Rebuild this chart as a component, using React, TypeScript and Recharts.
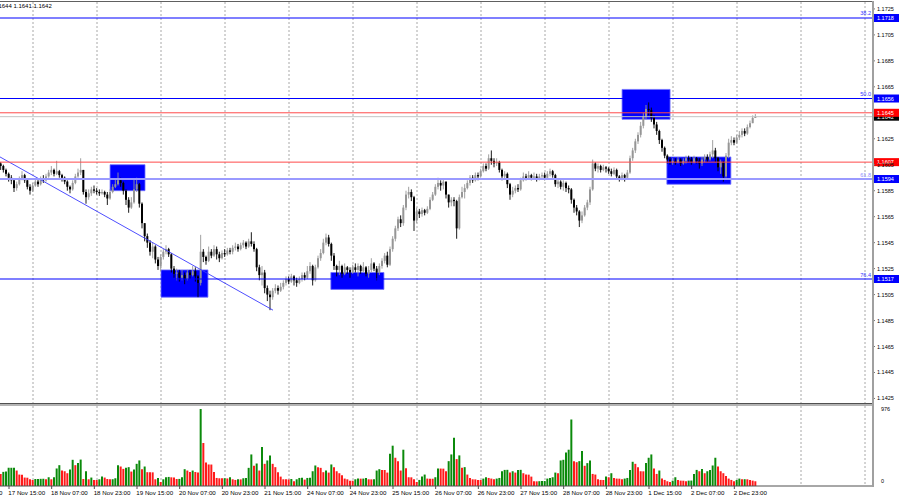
import {
  Bar,
  CartesianGrid,
  Cell,
  ComposedChart,
  ReferenceArea,
  ReferenceLine,
  XAxis,
  YAxis,
} from 'recharts';

const FONT = '"Liberation Sans", Arial, sans-serif';

// H1 bars, bar 0 = 17 Nov 15:00; the first visible candle is bar -3
const firstBar = -3;
const firstOpen = 106;

// prices in pips above 1.1500
const closes = [
  104, 101, 98, 95, 93, 87, 90, 94, 97, 93,
  88, 85, 89, 92, 90, 94, 93, 96, 99, 101,
  98, 100, 97, 95, 92, 88, 86, 91, 96, 99,
  101, 84, 80, 83, 86, 85, 84, 83, 84, 82,
  79, 84, 88, 90, 93, 91, 85, 78, 72, 76,
  86, 90, 75, 60, 50, 45, 38, 42, 32, 27,
  34, 38, 40, 36, 25, 21, 22, 18, 20, 17,
  22, 20, 23, 19, 14, 38, 34, 31, 38, 35,
  40, 36, 33, 37, 36, 39, 38, 41, 42, 40,
  43, 45, 42, 46, 44, 40, 26, 20, 22, 10,
  5, 3, 8, 10, 8, 11, 14, 17, 15, 19,
  16, 14, 17, 20, 18, 23, 27, 16, 26, 33,
  37, 45, 49, 44, 35, 27, 24, 27, 21, 26,
  24, 22, 26, 24, 27, 23, 26, 21, 24, 29,
  25, 22, 27, 31, 35, 28, 40, 48, 56, 63,
  60, 72, 82, 84, 80, 62, 69, 67, 70, 68,
  71, 78, 82, 88, 91, 89, 92, 82, 76, 78,
  77, 56, 80, 84, 87, 91, 95, 93, 97, 96,
  100, 104, 102, 110, 108, 106, 107, 101, 96, 98,
  90, 82, 85, 87, 86, 93, 96, 95, 97, 95,
  96, 94, 96, 97, 95, 98, 100, 97, 90, 92,
  88, 91, 87, 86, 78, 72, 69, 62, 66, 72,
  76, 86, 106, 102, 104, 101, 103, 102, 100, 98,
  101, 96, 94, 97, 95, 99, 110, 116, 123, 128,
  135, 142, 148, 147, 141, 136, 131, 124, 118, 112,
  109, 107, 108, 107, 109, 106, 108, 110, 109, 107,
  110, 108, 106, 109, 111, 109, 113, 116, 110, 103,
  107, 96, 112, 122, 124, 122, 126, 128, 131, 129,
  134, 137, 141, 142,
];

const highs = [
  107, 105, 102, 99, 97, 94, 92, 96, 100, 98,
  94, 90, 91, 94, 94, 96, 97, 98, 101, 104,
  102, 108, 101, 98, 96, 93, 89, 93, 98, 102,
  110, 100, 86, 86, 88, 89, 87, 86, 86, 85,
  84, 86, 90, 94, 99, 95, 92, 86, 80, 80,
  94, 95, 91, 76, 60, 52, 47, 45, 43, 34,
  36, 40, 43, 41, 37, 27, 25, 24, 24, 22,
  24, 24, 27, 26, 20, 51, 40, 35, 42, 40,
  43, 42, 38, 39, 40, 41, 41, 43, 45, 44,
  45, 47, 46, 48, 53, 46, 41, 28, 27, 24,
  12, 8, 10, 13, 12, 14, 16, 19, 19, 21,
  20, 18, 19, 22, 22, 27, 30, 28, 28, 35,
  40, 48, 52, 51, 45, 37, 28, 31, 28, 29,
  27, 26, 28, 29, 29, 28, 30, 27, 27, 33,
  30, 27, 29, 33, 37, 38, 42, 50, 58, 65,
  66, 74, 85, 88, 86, 81, 72, 71, 72, 71,
  73, 80, 84, 90, 95, 93, 94, 92, 82, 80,
  80, 78, 82, 88, 90, 93, 97, 97, 99, 99,
  102, 106, 106, 113, 116, 110, 110, 108, 102, 100,
  99, 91, 88, 89, 90, 95, 99, 98, 100, 98,
  99, 98, 98, 99, 99, 100, 102, 101, 98, 94,
  93, 93, 92, 89, 87, 79, 74, 70, 69, 74,
  78, 88, 109, 107, 106, 105, 105, 104, 103, 102,
  103, 102, 97, 99, 98, 101, 112, 118, 125, 130,
  138, 145, 151, 153, 149, 143, 138, 132, 125, 119,
  113, 111, 110, 110, 111, 110, 110, 112, 112, 111,
  112, 111, 110, 111, 113, 113, 115, 124, 118, 111,
  109, 108, 114, 125, 127, 126, 128, 131, 133, 133,
  136, 139, 143, 144,
];

const lows = [
  101, 99, 96, 92, 90, 84, 85, 89, 93, 91,
  86, 82, 84, 88, 88, 89, 91, 92, 95, 97,
  96, 97, 95, 92, 90, 85, 83, 85, 90, 95,
  97, 82, 75, 78, 81, 83, 82, 81, 82, 80,
  74, 78, 83, 87, 89, 88, 82, 74, 68, 71,
  75, 84, 72, 56, 46, 41, 35, 33, 29, 24,
  23, 32, 36, 34, 22, 18, 16, 15, 16, 13,
  16, 17, 19, 15, 3, 12, 30, 28, 30, 33,
  34, 32, 30, 32, 34, 35, 36, 36, 39, 38,
  39, 41, 40, 41, 42, 38, 23, 16, 12, 6,
  0, -7, 1, 6, 5, 7, 9, 12, 13, 14,
  12, 11, 13, 15, 16, 17, 21, 12, 15, 25,
  31, 36, 43, 42, 31, 24, 19, 20, 18, 20,
  21, 18, 21, 22, 19, 21, 22, 19, 18, 22,
  23, 16, 20, 25, 29, 26, 27, 38, 46, 54,
  57, 58, 70, 79, 77, 54, 60, 64, 65, 66,
  67, 70, 77, 81, 86, 85, 86, 79, 72, 73,
  73, 48, 55, 79, 79, 86, 89, 91, 92, 93,
  95, 99, 100, 101, 105, 103, 104, 99, 93, 94,
  87, 78, 80, 83, 84, 85, 92, 93, 94, 93,
  94, 92, 93, 94, 93, 94, 96, 95, 88, 87,
  86, 85, 84, 83, 75, 68, 66, 57, 60, 65,
  70, 74, 85, 100, 99, 99, 100, 99, 98, 96,
  97, 94, 92, 93, 92, 94, 98, 108, 114, 121,
  126, 133, 140, 143, 138, 133, 128, 121, 115, 110,
  106, 105, 105, 105, 106, 104, 105, 106, 107, 105,
  106, 106, 102, 104, 107, 107, 108, 110, 107, 100,
  98, 92, 95, 110, 120, 120, 121, 124, 126, 127,
  128, 133, 137, 141,
];

// tick volume
const volumes = [
  153, 179, 183, 230, 231, 232, 196, 145, 143, 107,
  105, 85, 77, 89, 90, 91, 92, 85, 111, 85,
  111, 222, 264, 196, 187, 162, 209, 332, 264, 290,
  335, 89, 187, 85, 107, 77, 76, 85, 119, 107,
  89, 85, 86, 98, 264, 247, 217, 230, 239, 183,
  209, 281, 324, 213, 247, 175, 174, 173, 85, 102,
  51, 85, 111, 115, 110, 109, 89, 90, 111, 213,
  196, 179, 196, 178, 170, 976, 545, 298, 273, 272,
  179, 102, 98, 97, 99, 96, 111, 85, 77, 85,
  84, 98, 102, 230, 400, 256, 285, 196, 494, 281,
  324, 388, 281, 239, 175, 119, 85, 84, 83, 89,
  60, 85, 102, 103, 81, 102, 104, 187, 260, 239,
  230, 175, 196, 170, 273, 239, 187, 162, 136, 94,
  85, 68, 67, 85, 94, 93, 94, 102, 85, 84,
  86, 196, 213, 204, 203, 170, 409, 511, 358, 315,
  196, 460, 226, 111, 110, 85, 51, 77, 119, 145,
  94, 93, 92, 111, 222, 221, 220, 187, 315, 400,
  613, 341, 388, 230, 239, 145, 102, 85, 84, 77,
  76, 94, 111, 102, 94, 85, 94, 102, 187, 204,
  205, 170, 187, 170, 204, 205, 162, 145, 144, 119,
  60, 59, 61, 62, 63, 94, 102, 111, 170, 162,
  324, 332, 426, 460, 843, 315, 302, 315, 443, 256,
  290, 324, 153, 145, 85, 77, 76, 119, 111, 162,
  102, 94, 93, 85, 94, 102, 204, 307, 281, 239,
  187, 186, 290, 358, 400, 222, 153, 196, 94, 77,
  60, 51, 68, 111, 77, 68, 67, 60, 68, 69,
  153, 204, 187, 217, 162, 187, 204, 260, 358, 247,
  187, 162, 128, 94, 77, 60, 77, 94, 85, 86,
  85, 77, 68, 60,
];

// 1.1645 sits under the red tag, so it is left out of the scale labels
const priceTicks = [
  1.1425, 1.1445, 1.1465, 1.1485, 1.1505, 1.1525, 1.1545, 1.1565,
  1.1585, 1.1605, 1.1625, 1.1665, 1.1685, 1.1705, 1.1725,
];
const timeTicks = [-16, 0, 16, 32, 48, 64, 80, 96, 112, 128, 144, 160, 176, 192, 208, 224, 240, 256, 272];
const timeLabels = [
  '16 Nov 23:00', '17 Nov 15:00', '18 Nov 07:00', '18 Nov 23:00', '19 Nov 15:00',
  '20 Nov 07:00', '20 Nov 23:00', '21 Nov 15:00', '24 Nov 07:00', '24 Nov 23:00',
  '25 Nov 15:00', '26 Nov 07:00', '26 Nov 23:00', '27 Nov 15:00', '28 Nov 07:00',
  '28 Nov 23:00', '1 Dec 15:00', '2 Dec 07:00', '2 Dec 23:00',
];
// bar index of each midnight (day separators)
const midnights = [9, 33, 57, 81, 105, 129, 153, 177, 201, 225, 249, 273, 297, 321];

const fiboPrices = [1.1718, 1.1656, 1.1594, 1.1517];
const fiboNames = ['38.2', '50.0', '61.8', '76.4'];
const redPrices = [1.1645, 1.1607];
const bidPrice = 1.1642;
const headerValues = ['1.1644', '1.1641', '1.1642'];

// blue zones: bar range and price range
const zoneFrom = [37.9, 57, 120.7, 229.9, 246.7];
const zoneTo = [51, 74.6, 140.6, 247.9, 270.7];
const zoneTop = [1.1605, 1.1524, 1.1522, 1.1663, 1.1611];
const zoneBottom = [1.1585, 1.1503, 1.1509, 1.164, 1.159];

const trendFrom = { bar: -3.375, price: 1.1611 };
const trendTo = { bar: 99, price: 1.1493 };

const volTicks = [0, 976];

const X_MIN = -3.375;
const X_MAX = 324;
const PRICE_MIN = 1.142151;
const PRICE_MAX = 1.173032;
const VOL_MAX = 1014;

const BULL = '#969696';
const BEAR = '#000000';
const GREEN = '#0b8a0b';
const RED = '#ff1a1a';

const toPrice = (pips: number) => 1.15 + pips / 10000;

const rows = closes.map((c, k) => {
  const o = k === 0 ? firstOpen : closes[k - 1];
  const high = toPrice(Math.max(highs[k], o, c));
  const low = toPrice(Math.min(lows[k], o, c));
  return {
    i: firstBar + k,
    open: toPrice(o),
    close: toPrice(c),
    high,
    low,
    hl: [low, high],
    vol: volumes[k],
    volUp: k > 0 && volumes[k] > volumes[k - 1],
  };
});

function gridX(args: any) {
  const scale = args?.xAxis?.scale;
  if (typeof scale === 'function') return midnights.map((i) => scale(i));
  const off = args?.offset ?? { left: 0, width: 873 };
  return midnights.map((i) => off.left + ((i - X_MIN) / (X_MAX - X_MIN)) * off.width);
}

function Candle(props: any) {
  const { x, y, width, height, payload } = props;
  if (!payload || x == null || y == null) return null;
  const top0 = Math.min(y, y + height);
  const h = Math.abs(height);
  const { open, close, high, low } = payload;
  const k = high > low ? h / (high - low) : 0;
  const yAt = (p: number) => top0 + (high - p) * k;
  const up = close > open;
  const color = up ? BULL : BEAR;
  const cx = x + width / 2;
  const top = yAt(Math.max(open, close));
  const bottom = yAt(Math.min(open, close));
  return (
    <g>
      <line x1={cx} x2={cx} y1={top0} y2={top0 + h} stroke={color} strokeWidth={0.9} />
      <rect x={x} y={top} width={width} height={Math.max(bottom - top, 0.8)} fill={color} />
    </g>
  );
}

function PriceTick(props: any) {
  const { x, y, payload } = props;
  return (
    <text x={x} y={y} dy={2} fontSize={5.5} fontFamily={FONT} fill="#000">
      {Number(payload.value).toFixed(4)}
    </text>
  );
}

function TimeTick(props: any) {
  const { x, y, payload } = props;
  const idx = timeTicks.indexOf(payload.value);
  return (
    <text x={x - 0.7} y={y} dy={4.3} fontSize={6.2} fontFamily={FONT} fill="#000">
      {timeLabels[idx]}
    </text>
  );
}

function VolTick(props: any) {
  const { x, y, payload } = props;
  return (
    <text x={x} y={y} dy={payload.value === 0 ? -3 : 2} fontSize={5.5} fontFamily={FONT} fill="#000">
      {payload.value}
    </text>
  );
}

function LevelTag(props: any) {
  const { viewBox, price, bg, fibo, fiboColor } = props;
  if (!viewBox) return null;
  const right = viewBox.x + viewBox.width;
  const y = viewBox.y;
  return (
    <g>
      {fibo ? (
        <text x={right - 2} y={y - 2.5} textAnchor="end" fontSize={5.5} fontFamily={FONT} fill={fiboColor}>
          {fibo}
        </text>
      ) : null}
      <rect x={right + 1} y={y - 4} width={25} height={8} fill={bg} />
      <text x={right + 4} y={y + 2} fontSize={5.5} fontFamily={FONT} fill="#ffffff">
        {price.toFixed(4)}
      </text>
    </g>
  );
}

export default function App() {
  return (
    <div
      style={{
        position: 'absolute',
        left: 0,
        top: 0,
        width: 900,
        height: 500,
        overflow: 'hidden',
        background: '#ffffff',
        fontFamily: FONT,
      }}
    >
      <div style={{ position: 'absolute', left: 0, top: 0 }}>
        <ComposedChart width={900} height={404} data={rows} margin={{ top: 2, right: 0, bottom: 1, left: 0 }}>
          <CartesianGrid horizontal={false} verticalCoordinatesGenerator={gridX} stroke="#a8a8a8" strokeDasharray="2 2" />
          <XAxis dataKey="i" type="number" domain={[X_MIN, X_MAX]} allowDataOverflow hide />
          <YAxis
            orientation="right"
            width={27}
            type="number"
            domain={[PRICE_MIN, PRICE_MAX]}
            allowDataOverflow
            ticks={priceTicks}
            interval={0}
            axisLine={false}
            tickLine={{ stroke: '#777777' }}
            tickSize={2}
            tick={<PriceTick />}
          />
          {zoneFrom.map((x1, k) => (
            <ReferenceArea
              key={`zone-${k}`}
              x1={x1}
              x2={zoneTo[k]}
              y1={zoneBottom[k]}
              y2={zoneTop[k]}
              fill="#0000ff"
              fillOpacity={1}
              stroke="#7070ff"
              strokeWidth={0.8}
              ifOverflow="visible"
            />
          ))}
          <Bar dataKey="hl" barSize={2} isAnimationActive={false} shape={(p: any) => <Candle {...p} />} />
          <ReferenceLine
            segment={[
              { x: trendFrom.bar, y: trendFrom.price },
              { x: trendTo.bar, y: trendTo.price },
            ]}
            stroke="#3a3aff"
            strokeWidth={0.9}
            ifOverflow="visible"
          />
          <ReferenceLine
            y={bidPrice}
            stroke="#c4c4c4"
            strokeWidth={1}
            label={<LevelTag price={bidPrice} bg="#000000" />}
          />
          {redPrices.map((p) => (
            <ReferenceLine
              key={`red-${p}`}
              y={p}
              stroke="#ff4a4a"
              strokeWidth={1}
              label={<LevelTag price={p} bg="#ff0000" />}
            />
          ))}
          {fiboPrices.map((p, k) => (
            <ReferenceLine
              key={`fibo-${p}`}
              y={p}
              stroke={k === 2 ? '#9a9aff' : '#0000ff'}
              strokeWidth={k === 2 ? 1.8 : 1.2}
              label={
                <LevelTag
                  price={p}
                  bg="#0000ff"
                  fibo={fiboNames[k]}
                  fiboColor={k === 2 ? '#8c8cff' : '#3535ff'}
                />
              }
            />
          ))}
        </ComposedChart>
      </div>

      <div style={{ position: 'absolute', left: 0, top: 404 }}>
        <ComposedChart width={900} height={96} data={rows} margin={{ top: 2, right: 0, bottom: 0, left: 0 }}>
          <CartesianGrid horizontal={false} verticalCoordinatesGenerator={gridX} stroke="#a8a8a8" strokeDasharray="2 2" />
          <XAxis
            dataKey="i"
            type="number"
            domain={[X_MIN, X_MAX]}
            allowDataOverflow
            ticks={timeTicks}
            interval={0}
            height={14}
            tickSize={3}
            axisLine={{ stroke: '#505050' }}
            tickLine={{ stroke: '#505050' }}
            tick={<TimeTick />}
          />
          <YAxis
            orientation="right"
            width={27}
            type="number"
            domain={[0, VOL_MAX]}
            allowDataOverflow
            ticks={volTicks}
            interval={0}
            axisLine={false}
            tickLine={false}
            tick={<VolTick />}
          />
          <Bar dataKey="vol" barSize={2} isAnimationActive={false}>
            {rows.map((r) => (
              <Cell key={`v-${r.i}`} fill={r.volUp ? GREEN : RED} />
            ))}
          </Bar>
        </ComposedChart>
      </div>

      {/* frame */}
      <div style={{ position: 'absolute', left: 0, top: 1, width: 873, height: 1, background: '#606060' }} />
      <div style={{ position: 'absolute', left: 0, top: 403, width: 873, height: 1, background: '#505050' }} />
      <div style={{ position: 'absolute', left: 0, top: 404, width: 873, height: 2, background: '#b4b4b4' }} />
      <div style={{ position: 'absolute', left: 872, top: 1, width: 2, height: 486, background: '#a0a0a0' }} />

      <div
        style={{
          position: 'absolute',
          left: -6.6,
          top: 3,
          fontSize: 6,
          lineHeight: '7px',
          color: '#000',
          whiteSpace: 'nowrap',
        }}
      >
        {headerValues.join(' ')}
      </div>
    </div>
  );
}
